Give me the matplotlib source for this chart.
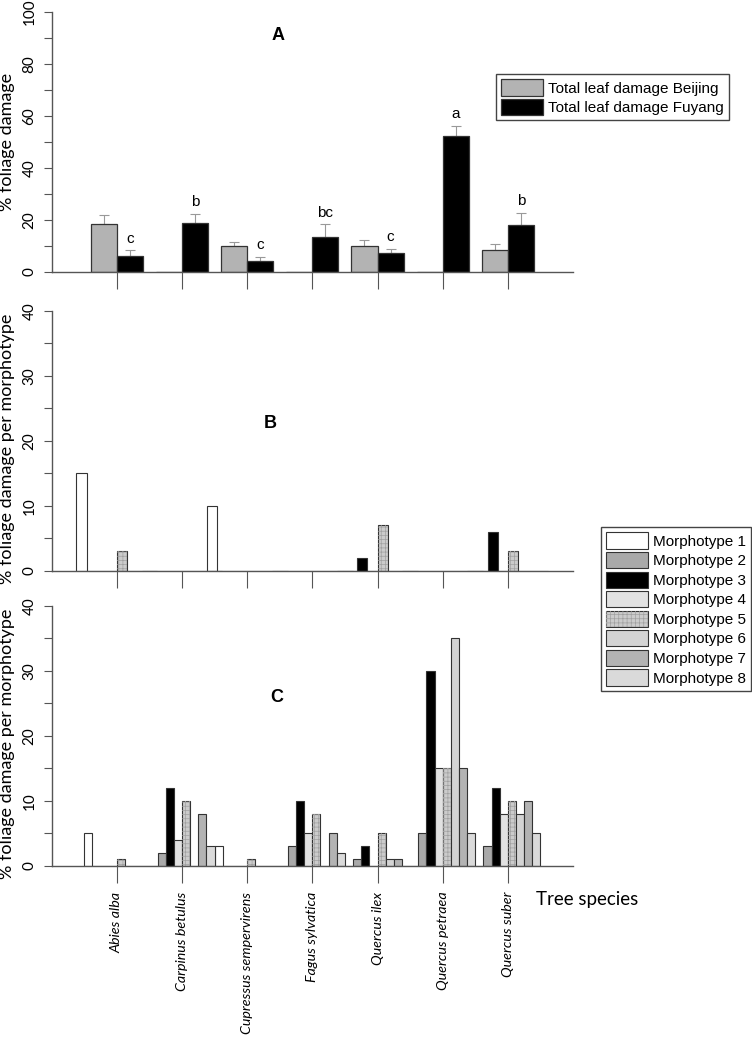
import matplotlib
matplotlib.use('Agg')
import matplotlib.pyplot as plt
import numpy as np

# ---------------- data ----------------
species = ['Abies alba', 'Carpinus betulus', 'Cupressus sempervirens',
           'Fagus sylvatica', 'Quercus ilex', 'Quercus petraea', 'Quercus suber']

beijing = [18.3, 0, 10.1, 0, 10.0, 0, 8.3]
beijing_err = [3.5, 0, 1.3, 0, 2.4, 0, 2.6]
fuyang = [6.3, 18.8, 4.2, 13.6, 7.2, 52.4, 18.0]
fuyang_err = [2.0, 3.4, 1.6, 4.7, 1.5, 3.6, 4.6]
letters = ['c', 'b', 'c', 'bc', 'c', 'a', 'b']

morph_labels = ['Morphotype 1', 'Morphotype 2', 'Morphotype 3', 'Morphotype 4',
                'Morphotype 5', 'Morphotype 6', 'Morphotype 7', 'Morphotype 8']

# Panel B (rows = morphotype 1..8, columns = species)
b_m1 = [15, 0, 10, 0, 0, 0, 0]
b_m2 = [0, 0, 0, 0, 0, 0, 0]
b_m3 = [0, 0, 0, 0, 2, 0, 6]
b_m4 = [0, 0, 0, 0, 0, 0, 0]
b_m5 = [3, 0, 0, 0, 7, 0, 3]
b_m6 = [0, 0, 0, 0, 0, 0, 0]
b_m7 = [0, 0, 0, 0, 0, 0, 0]
b_m8 = [0, 0, 0, 0, 0, 0, 0]

# Panel C
c_m1 = [5, 0, 3, 0, 0, 0, 0]
c_m2 = [0, 2, 0, 3, 1, 5, 3]
c_m3 = [0, 12, 0, 10, 3, 30, 12]
c_m4 = [0, 4, 0, 5, 0, 15, 8]
c_m5 = [1, 10, 1, 8, 5, 15, 10]
c_m6 = [0, 0, 0, 0, 1, 35, 8]
c_m7 = [0, 8, 0, 5, 1, 15, 10]
c_m8 = [0, 3, 0, 2, 0, 5, 5]

panel_B = [b_m1, b_m2, b_m3, b_m4, b_m5, b_m6, b_m7, b_m8]
panel_C = [c_m1, c_m2, c_m3, c_m4, c_m5, c_m6, c_m7, c_m8]

# ---------------- style ----------------
SANS = ['Liberation Sans', 'DejaVu Sans']
HUM = ['Lato', 'DejaVu Sans']
plt.rcParams['font.family'] = HUM
plt.rcParams['hatch.linewidth'] = 0.5
AXC = '#555555'
EDGE = '#333333'
morph_colors = ['#ffffff', '#a9a9a9', '#000000', '#e2e2e2',
                '#cbcbcb', '#d4d4d4', '#b3b3b3', '#dadada']

W, H = 752, 1039
fig = plt.figure(figsize=(W / 100, H / 100), dpi=100)

def ax_rect(left_px, right_px, top_px, bottom_px):
    return [left_px / W, 1 - bottom_px / H, (right_px - left_px) / W, (bottom_px - top_px) / H]

axA = fig.add_axes(ax_rect(51.7, 573, 11.7, 272))
axB = fig.add_axes(ax_rect(51.7, 573, 310.7, 571))
axC = fig.add_axes(ax_rect(51.7, 573, 605.7, 866))

x = np.arange(len(species))

def style(ax, ymax, major, minor):
    for s in ['top', 'right']:
        ax.spines[s].set_visible(False)
    for s in ['left', 'bottom']:
        ax.spines[s].set_color(AXC)
        ax.spines[s].set_linewidth(1.0)
    ax.set_xlim(-1, 7)
    ax.set_ylim(0, ymax)
    ax.set_yticks(np.arange(0, ymax + 0.1, major))
    ax.set_yticks(np.arange(minor, ymax, major), minor=True)
    ax.set_xticks(x)
    ax.tick_params(axis='y', which='both', direction='out', length=6, width=0.8,
                   color=AXC, labelsize=11, labelrotation=90, pad=5)
    ax.tick_params(axis='x', direction='out', length=12.5, width=0.8, color=AXC)
    for lab in ax.get_yticklabels():
        lab.set_va('center')
    ax.set_facecolor('none')

style(axA, 100, 20, 10)
style(axB, 40, 10, 5)
style(axC, 40, 10, 5)
axA.set_xticklabels([])
axB.set_xticklabels([])
axC.set_xticklabels(species, rotation=90, fontstyle='italic',
                    fontsize=10.3, ha='center', va='top')
axC.tick_params(axis='x', pad=6)

# ---------------- Panel A ----------------
wA = 0.4
bA1 = axA.bar(x - wA / 2, beijing, wA, color='#b3b3b3', edgecolor=EDGE, linewidth=0.9,
              label='Total leaf damage Beijing', zorder=2)
bA2 = axA.bar(x + wA / 2, fuyang, wA, color='#000000', edgecolor=EDGE, linewidth=0.9,
              label='Total leaf damage Fuyang', zorder=2)
bj_idx = [i for i in range(len(x)) if beijing[i] > 0]
axA.errorbar(x[bj_idx] - wA / 2, [beijing[i] for i in bj_idx],
             yerr=[[0] * len(bj_idx), [beijing_err[i] for i in bj_idx]],
             fmt='none', ecolor='#999999', elinewidth=0.8, capsize=3.5, capthick=0.8, zorder=1)
axA.errorbar(x + wA / 2, fuyang, yerr=[[0] * len(x), fuyang_err],
             fmt='none', ecolor='#999999', elinewidth=0.8, capsize=3.5, capthick=0.8, zorder=1)
for i, let in enumerate(letters):
    axA.annotate(let, (x[i] + wA / 2, fuyang[i] + fuyang_err[i]), xytext=(0, 3.5),
                 textcoords='offset points', ha='center', va='bottom',
                 fontsize=11, fontfamily=SANS)
axA.set_ylabel('% foliage damage', fontsize=13)
axA.yaxis.set_label_coords(-0.070, 0.5)
legA = axA.legend(handles=[bA1, bA2], loc='upper left',
                  bbox_to_anchor=(496 / W, 1 - 74 / H), bbox_transform=fig.transFigure,
                  prop={'family': SANS, 'size': 11}, frameon=True, fancybox=False,
                  edgecolor='#444444', framealpha=1, handlelength=2.75, handleheight=1.25,
                  handletextpad=0.3, labelspacing=0.22, borderpad=0.35, borderaxespad=0)
legA.get_frame().set_linewidth(1.0)

# ---------------- Panels B and C ----------------
def morph_panel(ax, data, w):
    handles = []
    for k, vals in enumerate(data):
        pos = x + (k - 3.5) * w
        b = ax.bar(pos, vals, w, color=morph_colors[k], edgecolor=EDGE, linewidth=0.8,
                   zorder=2)
        if k == 4:
            h = ax.bar(pos, vals, w, color='none', edgecolor='#a0a0a0', linewidth=0,
                       hatch='++++', zorder=2.5)
            handles.append((b, h))
        else:
            handles.append(b)
    return handles

hB = morph_panel(axB, panel_B, 0.155)
hC = morph_panel(axC, panel_C, 0.125)
for ax in (axB, axC):
    ax.set_ylabel('% foliage damage per morphotype', fontsize=13)
    ax.yaxis.set_label_coords(-0.070, 0.47)

legM = fig.legend(handles=hC, labels=morph_labels, loc='upper left',
                  bbox_to_anchor=(600.7 / W, 1 - 527 / H),
                  prop={'family': SANS, 'size': 11}, frameon=True, fancybox=False,
                  edgecolor='#444444', framealpha=1, handlelength=2.75, handleheight=1.25,
                  handletextpad=0.3, labelspacing=0.22, borderpad=0.35, borderaxespad=0)
legM.get_frame().set_linewidth(1.0)

# ---------------- panel letters & x title ----------------
fig.text(278 / W, 1 - 35 / H, 'A', fontsize=13, fontweight='bold', fontfamily=SANS,
         ha='center', va='center')
fig.text(270 / W, 1 - 423 / H, 'B', fontsize=13, fontweight='bold', fontfamily=SANS,
         ha='center', va='center')
fig.text(277 / W, 1 - 697 / H, 'C', fontsize=13, fontweight='bold', fontfamily=SANS,
         ha='center', va='center')
fig.text(536 / W, 1 - 899 / H, 'Tree species', fontsize=13.5,
         ha='left', va='center')

fig.savefig('out.png', dpi=100)
